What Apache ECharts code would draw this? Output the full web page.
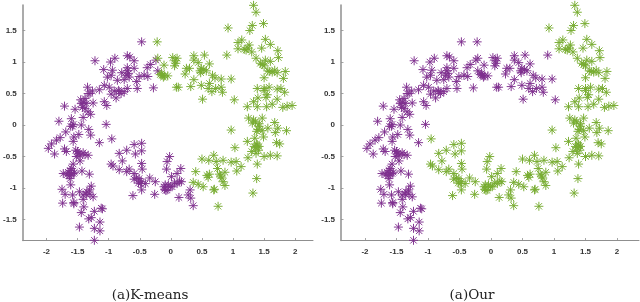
<!DOCTYPE html>
<html><head><meta charset="utf-8">
<style>html,body{margin:0;padding:0;background:#fff}#c{width:640px;height:302px}</style>
<script src="https://cdn.jsdelivr.net/npm/echarts@6/dist/echarts.min.js"></script>
</head><body><div id="c"></div>
<script>
const xTicks=[-2,-1.5,-1,-0.5,0,0.5,1,1.5,2];
const yTicks=[-1.5,-1,-0.5,0,0.5,1,1.5];
const captions=['(a)K-means','(a)Our'];
const leftArc=[[-0.47,1.32],[-1.22,1.02],[-0.90,1.06],[-0.97,1.0],[-0.70,1.10],[-0.66,1.08],[-0.59,1.02],[-0.70,0.91],[-0.59,0.90],[-1.08,0.88],[-0.94,0.87],[-0.96,0.79],[-1.02,0.76],[-0.79,0.83],[-0.72,0.79],[-0.86,0.71],[-0.67,0.76],[-0.75,0.72],[-0.24,1.03],[-0.33,0.96],[-0.38,0.91],[-0.43,0.79],[-0.37,0.77],[-0.51,0.77],[-0.55,0.69],[-0.54,0.58],[-0.28,0.59],[-0.21,0.86],[-0.70,0.58],[-0.75,0.53],[-0.83,0.53],[-0.91,0.54],[-0.88,0.43],[-0.96,0.49],[-0.99,0.60],[-1.07,0.63],[-1.15,0.56],[-1.34,0.60],[-1.26,0.54],[-1.33,0.50],[-1.38,0.42],[-1.44,0.34],[-1.36,0.34],[-1.25,0.35],[-1.07,0.37],[-1.03,0.31],[-1.71,0.30],[-1.54,0.25],[-1.38,0.26],[-1.33,0.21],[-1.29,0.17],[-1.41,0.12],[-1.80,0.06],[-1.60,0.10],[-1.57,0.01],[-1.61,-0.02],[-1.44,0],[-1.04,0.01],[-1.32,-0.07],[-1.69,-0.11],[-1.29,-0.16],[-1.48,-0.15],[-1.56,-0.19],[-1.78,-0.20],[-1.84,-0.24],[-1.15,-0.28],[-1.97,-0.37],[-1.92,-0.30],[-1.87,-0.46],[-1.71,-0.38],[-1.68,-0.42],[-1.57,-0.26],[-1.53,-0.40],[-1.48,-0.45],[-1.41,-0.44],[-1.33,-0.48],[-1.52,-0.50],[-1.46,-0.57],[-1.57,-0.62],[-1.60,-0.69],[-1.65,-0.75],[-1.73,-0.77],[-1.57,-0.77],[-1.62,-0.72],[-1.60,-0.78],[-1.67,-0.79],[-1.43,-0.73],[-1.31,-0.78],[-1.62,-0.85],[-1.61,-0.95],[-1.75,-1.02],[-1.70,-1.10],[-1.58,-1.11],[-1.47,-1.06],[-1.41,-1.11],[-1.28,-0.97],[-1.31,-1.03],[-1.25,-1.14],[-1.41,-1.18],[-1.74,-1.24],[-1.56,-1.23],[-1.40,-1.30],[-1.44,-1.39],[-1.23,-1.37],[-1.10,-1.33],[-1.12,-1.32],[-1.28,-1.47],[-1.32,-1.49],[-1.14,-1.54],[-1.47,-1.62],[-1.23,-1.64],[-1.14,-1.68],[-1.23,-1.83],[-1.45,0.40],[-1.40,0.36],[-1.42,0.28],[-1.30,0.50],[-1.58,-0.02],[-0.84,0.55],[-0.80,0.50],[-0.70,0.86],[-0.68,0.82],[-1.50,-0.42],[-1.46,-0.48],[-1.38,-0.47],[-1.55,-0.75],[-1.63,-0.80],[-1.56,-1.25],[-1.36,-1.10],[-1.30,-1.10],[-1.35,-1.06]];
const lowerArc=[[-0.95,-0.22],[-0.59,-0.31],[-0.47,-0.29],[-0.71,-0.40],[-0.83,-0.45],[-0.57,-0.46],[-0.47,-0.41],[-0.78,-0.57],[-0.96,-0.62],[-0.93,-0.65],[-0.47,-0.61],[-0.83,-0.71],[-0.67,-0.70],[-0.71,-0.74],[-0.46,-0.70],[-0.59,-0.77],[-0.59,-0.86],[-0.51,-0.85],[-0.34,-0.84],[-0.49,-0.93],[-0.41,-0.93],[-0.47,-1.03],[-0.25,-0.90],[-0.61,-1.12],[-0.26,-1.10],[-0.09,-0.95],[-0.08,-1.04],[-0.01,-0.98],[-0.02,-0.50],[-0.06,-0.58],[-0.07,-0.70],[0.01,-0.82],[0.10,-0.77],[0.16,-0.69],[-0.11,-0.98],[-0.06,-1.03],[0.02,-0.98],[0.10,-0.93],[0.17,-0.90],[0.13,-1.15],[0.31,-1.03],[0.28,-1.11],[0.32,-1.16],[0.36,-1.28],[-0.55,-0.84],[-0.47,-0.90],[-0.52,-0.92],[-0.04,-0.95],[0.06,-0.92],[0.14,-0.89],[-0.10,-1.02]];
const upperMid=[[-0.22,1.32],[-0.21,1.06],[-0.11,0.95],[-0.14,0.79],[-0.05,0.78],[-0.17,0.80],[-0.12,0.76],[-0.15,0.82],[-0.10,0.78],[0.03,1.07],[0.10,1.06],[0.08,0.98],[0.06,0.94],[0.37,1.10],[0.37,1.03],[0.54,1.11],[0.44,0.99],[0.62,0.97],[0.25,0.90],[0.23,0.81],[0.49,0.90],[0.48,0.83],[0.57,0.86],[0.67,0.79],[0.37,0.72],[0.71,0.75],[0.81,0.73],[0.97,0.73],[0.09,0.60],[0.32,0.61],[0.49,0.63],[0.62,0.66],[0.81,0.60],[0.66,0.53],[0.83,0.52],[0.51,0.41],[1.02,0.40],[0.90,1.11],[0.30,0.90],[0.53,0.88],[0.47,0.86],[0.12,0.60],[0.72,0.58],[0.07,1.02],[0.60,0.58]];
const rightArc=[[0.92,1.54],[1.33,1.90],[1.37,1.79],[1.49,1.61],[1.31,1.58],[1.27,1.50],[1.14,1.35],[1.08,1.31],[1.08,1.21],[1.21,1.19],[1.26,1.27],[1.30,1.16],[1.52,1.36],[1.60,1.28],[1.46,1.22],[1.72,1.18],[1.73,1.07],[1.37,1.06],[1.44,0.98],[1.52,1.03],[1.60,1.01],[1.50,0.94],[1.67,0.87],[1.59,0.85],[1.84,0.85],[1.71,0.83],[1.81,0.74],[1.50,0.75],[1.39,0.58],[1.50,0.58],[1.58,0.60],[1.55,0.48],[1.71,0.57],[1.77,0.58],[1.83,0.52],[1.71,0.41],[1.40,0.43],[1.33,0.37],[1.23,0.29],[1.39,0.29],[1.54,0.29],[1.63,0.33],[1.80,0.28],[1.87,0.30],[1.95,0.31],[1.25,0.11],[1.31,0.03],[1.47,0.11],[1.42,0.02],[1.67,0.04],[1.40,-0.07],[1.47,-0.09],[1.56,-0.05],[1.72,-0.05],[1.68,-0.12],[1.86,-0.09],[1.49,-0.19],[0.97,-0.08],[1.23,-0.26],[1.35,-0.21],[1.38,-0.30],[1.42,-0.34],[1.70,-0.28],[1.75,-0.30],[1.03,-0.36],[1.39,-0.32],[1.37,-0.45],[1.24,-0.52],[1.50,-0.50],[1.60,-0.48],[1.71,-0.49],[1.39,-0.62],[0.69,-0.48],[0.50,-0.54],[0.61,-0.56],[0.84,-0.56],[0.73,-0.58],[0.97,-0.59],[1.05,-0.58],[0.75,-0.69],[1.13,-0.66],[1.06,-0.73],[0.40,-0.74],[0.87,-0.75],[0.80,-0.81],[0.60,-0.83],[0.36,-0.91],[0.44,-0.94],[0.52,-0.98],[0.84,-0.90],[0.87,-0.96],[0.69,-1.03],[1.38,-0.85],[1.32,-1.08],[0.76,-1.29],[1.18,1.20],[1.24,1.22],[1.47,0.96],[1.56,0.86],[1.63,0.84],[1.50,0.55],[1.53,0.44],[1.36,0.05],[1.42,-0.02],[1.38,-0.10],[1.33,0.08],[1.36,-0.36],[1.41,-0.40],[1.30,-0.42],[1.34,-0.34],[0.78,-0.78],[0.82,-0.84],[0.62,-0.78],[0.58,-0.80],[0.70,-1.02]];

const PURPLE='#7E2F8E',GREEN='#77AC30',AXIS='#8f8f8f',LABEL='#333333';
const star='path://M0 -10L0 10M-10 0L10 0M-7.07 -7.07L7.07 7.07M-7.07 7.07L7.07 -7.07';
const lefts=[19,341];
const panelW=[294,298];
const panelH=235.5;
const xMin=-2.381,xMax=[2.286,2.349],yMin=-1.833,yMax=1.905;
function sc(i,data,color){return {type:'scatter',xAxisIndex:i,yAxisIndex:i,data,symbol:star,symbolSize:9,clip:false,animation:false,
  itemStyle:{color:'transparent',borderColor:color,borderWidth:1,opacity:0.95},silent:true};}
function ax(w){return {axisLine:{onZero:false,lineStyle:{color:AXIS,width:w}},
  axisTick:{inside:true,length:2.5,lineStyle:{color:AXIS,width:0.8}},splitLine:{show:false}};}
const lblStyle={fontFamily:'Liberation Sans',fontSize:8,fontWeight:'bold',color:LABEL};
const option={animation:false,backgroundColor:'#fff',
 grid:lefts.map((l,i)=>({left:l,top:5,width:panelW[i],height:panelH})),
 xAxis:lefts.map((l,i)=>{const a=ax(1);return Object.assign(a,{type:'value',gridIndex:i,min:xMin,max:xMax[i],
   axisTick:Object.assign(a.axisTick,{customValues:xTicks}),
   axisLabel:Object.assign({},lblStyle,{customValues:xTicks,margin:7,formatter:v=>String(v)})});}),
 yAxis:lefts.map((l,i)=>{const a=ax(1.5);return Object.assign(a,{type:'value',gridIndex:i,min:yMin,max:yMax,
   axisTick:Object.assign(a.axisTick,{customValues:yTicks}),
   axisLabel:Object.assign({},lblStyle,{customValues:yTicks,margin:6,formatter:v=>String(v)})});}),
 title:captions.map((t,i)=>({text:t,left:[145,467][i],top:283,textAlign:'center',
   textStyle:{fontFamily:'DejaVu Serif',fontSize:13.5,fontWeight:'normal',color:'#222'}})),
 series:[
  sc(0,leftArc.concat(lowerArc),PURPLE),
  sc(0,upperMid.concat(rightArc),GREEN),
  sc(1,leftArc.concat(upperMid),PURPLE),
  sc(1,lowerArc.concat(rightArc),GREEN)
 ]};
echarts.init(document.getElementById('c'),null,{renderer:'canvas'}).setOption(option);
</script></body></html>
